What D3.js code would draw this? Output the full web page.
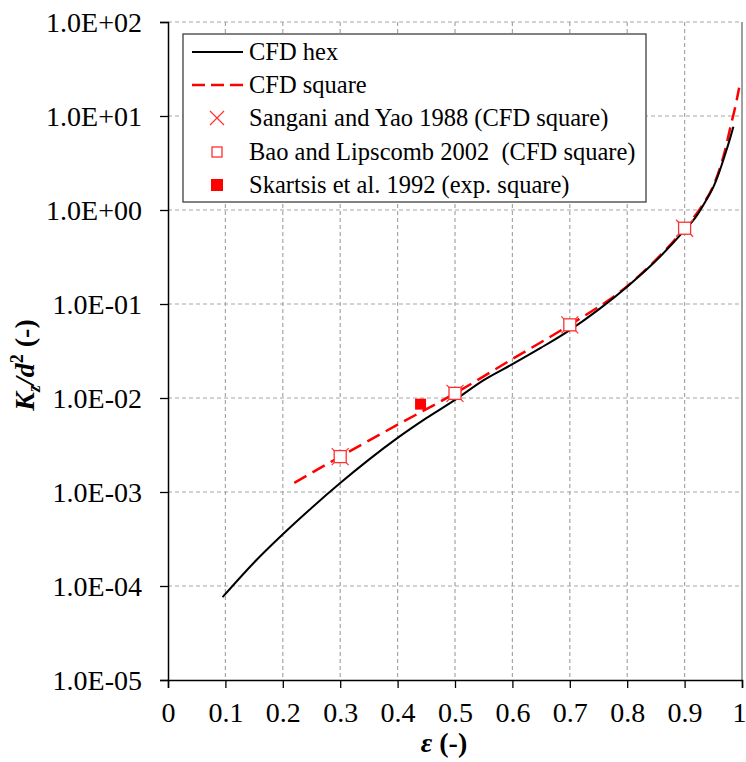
<!DOCTYPE html>
<html>
<head>
<meta charset="utf-8">
<script src="https://cdn.jsdelivr.net/npm/d3@7"></script>
<style>
  body { margin: 0; background: #fff; }
  svg { display: block; font-family: "Liberation Serif", "Times New Roman", serif; }
  .tick text { font-size: 28px; fill: #000; }
  .grid line { stroke: #a6a6a6; stroke-width: 1.2; stroke-dasharray: 4,3; }
  .legend text { font-size: 24.5px; white-space: pre; }
</style>
</head>
<body>
<svg id="chart"></svg>
<script>
// CFD hex (solid black)
var hexEps = [0.095, 0.15, 0.2, 0.25, 0.3, 0.35, 0.4, 0.45, 0.5, 0.55, 0.6, 0.65, 0.7, 0.75,
              0.8, 0.85, 0.9, 0.92, 0.94, 0.95, 0.96, 0.97, 0.98, 0.985];
var hexK   = [7.6e-5, 1.78e-4, 3.55e-4, 6.76e-4, 1.245e-3, 2.21e-3, 3.76e-3, 6.1e-3, 9.55e-3, 1.55e-2,
              2.29e-2, 3.43e-2, 5.28e-2, 8.71e-2, 0.153, 0.288, 0.61, 0.85, 1.35, 1.75, 2.5, 3.8, 6.0, 7.7];

// CFD square (red dashed)
var sqEps = [0.22, 0.3, 0.4, 0.5, 0.6, 0.7, 0.8, 0.9, 0.93, 0.95, 0.97, 0.98, 0.99, 0.995];
var sqK   = [1.25e-3, 2.38e-3, 5.2e-3, 1.12e-2, 2.6e-2, 6.0e-2, 0.155, 0.64, 1.1, 1.8, 4.2, 7.7, 14, 20];

// Sangani and Yao 1988 / Bao and Lipscomb 2002 (same points)
var refEps = [0.3, 0.5, 0.7, 0.9];
var refK   = [2.38e-3, 1.12e-2, 6.0e-2, 0.64];

// Skartsis et al. 1992
var expEps = [0.44];
var expK   = [8.6e-3];

var xTicks = [0, 0.1, 0.2, 0.3, 0.4, 0.5, 0.6, 0.7, 0.8, 0.9, 1];
var yTicks = [1e-5, 1e-4, 1e-3, 1e-2, 1e-1, 1e0, 1e1, 1e2];

var legendLabels = ["CFD hex", "CFD square", "Sangani and Yao 1988 (CFD square)",
                    "Bao and Lipscomb 2002  (CFD square)", "Skartsis et al. 1992 (exp. square)"];

var margin = {top: 22, right: 4, bottom: 82, left: 168},
    width = 746 - margin.left - margin.right,
    height = 762 - margin.top - margin.bottom;

var x = d3.scaleLinear().domain([0, 1]).range([0, width]);
var y = d3.scaleLog().domain([1e-5, 1e2]).range([height, 0]);

var svg = d3.select("#chart")
  .attr("width", 746)
  .attr("height", 762);

var chart = svg.append("g")
  .attr("transform", "translate(" + margin.left + "," + margin.top + ")");

// grid
var grid = chart.append("g").attr("class", "grid");
grid.selectAll(".gx")
  .data(xTicks.filter(function(d) { return d > 0 && d < 1; }))
  .enter().append("line")
  .attr("x1", function(d) { return x(d); })
  .attr("x2", function(d) { return x(d); })
  .attr("y1", 0).attr("y2", height);
grid.selectAll(".gy")
  .data(yTicks.filter(function(d) { return d > 1e-5; }))
  .enter().append("line")
  .attr("x1", 0).attr("x2", width)
  .attr("y1", function(d) { return y(d); })
  .attr("y2", function(d) { return y(d); });

// right border
chart.append("line")
  .attr("x1", width).attr("x2", width)
  .attr("y1", 0).attr("y2", height)
  .attr("stroke", "#7f7f7f").attr("stroke-width", 1.5);

function expFmt(d) {
  var e = Math.round(Math.log10(d));
  return "1.0E" + (e < 0 ? "-" : "+") + String(Math.abs(e)).padStart(2, "0");
}

var yAxis = d3.axisLeft(y).tickValues(yTicks).tickFormat(expFmt).tickSize(8).tickPadding(18);
var xAxis = d3.axisBottom(x).tickValues(xTicks).tickFormat(d3.format("")).tickSize(8).tickPadding(14);

chart.append("g")
  .attr("class", "y axis")
  .call(yAxis)
  .attr("font-family", "'Liberation Serif', 'Times New Roman', serif")
  .call(function(g) {
    g.select(".domain").attr("stroke", "#000").attr("stroke-width", 1.5);
    g.selectAll(".tick line").attr("stroke", "#000").attr("stroke-width", 1.3);
    g.selectAll(".tick text").attr("dy", "0.34em");
  });

chart.append("g")
  .attr("class", "x axis")
  .attr("transform", "translate(0," + height + ")")
  .call(xAxis)
  .attr("font-family", "'Liberation Serif', 'Times New Roman', serif")
  .call(function(g) {
    g.select(".domain").attr("stroke", "#000").attr("stroke-width", 1.5);
    g.selectAll(".tick line").attr("stroke", "#000").attr("stroke-width", 1.3);
    g.selectAll(".tick text").filter(function(d) { return d === 1; }).attr("dx", -3);
  });

// lines
var line = d3.line()
  .x(function(d) { return x(d[0]); })
  .y(function(d) { return y(d[1]); })
  .curve(d3.curveMonotoneX);

var hexData = d3.zip(hexEps, hexK);
var sqData = d3.zip(sqEps, sqK);

chart.append("path")
  .datum(sqData)
  .attr("d", line)
  .attr("fill", "none")
  .attr("stroke", "#ff0000")
  .attr("stroke-width", 2.5)
  .attr("stroke-dasharray", "14,7");

chart.append("path")
  .datum(hexData)
  .attr("d", line)
  .attr("fill", "none")
  .attr("stroke", "#000")
  .attr("stroke-width", 2);

// markers
function crossPath(s) {
  return "M" + (-s) + "," + (-s) + "L" + s + "," + s + "M" + (-s) + "," + s + "L" + s + "," + (-s);
}

var refData = d3.zip(refEps, refK);

chart.selectAll(".xmark")
  .data(refData)
  .enter().append("path")
  .attr("class", "xmark")
  .attr("transform", function(d) { return "translate(" + x(d[0]) + "," + y(d[1]) + ")"; })
  .attr("d", crossPath(8.5))
  .attr("stroke", "#ff3030")
  .attr("stroke-width", 1.2)
  .attr("fill", "none");

chart.selectAll(".sqmark")
  .data(refData)
  .enter().append("rect")
  .attr("class", "sqmark")
  .attr("x", function(d) { return x(d[0]) - 6; })
  .attr("y", function(d) { return y(d[1]) - 6; })
  .attr("width", 12).attr("height", 12)
  .attr("fill", "#fff")
  .attr("stroke", "#ff3030")
  .attr("stroke-width", 1.3);

chart.selectAll(".expmark")
  .data(d3.zip(expEps, expK))
  .enter().append("rect")
  .attr("class", "expmark")
  .attr("x", function(d) { return x(d[0]) - 5.5; })
  .attr("y", function(d) { return y(d[1]) - 5.5; })
  .attr("width", 11).attr("height", 11)
  .attr("fill", "#ff0000");

// LEGEND
var legend = svg.append("g").attr("class", "legend");
legend.append("rect")
  .attr("x", 183).attr("y", 34)
  .attr("width", 463).attr("height", 168)
  .attr("fill", "#fff")
  .attr("stroke", "#404040")
  .attr("stroke-width", 1.3);

var legY = [52, 85, 118, 152, 185];
var legItem = legend.selectAll(".item")
  .data(legendLabels)
  .enter().append("g")
  .attr("class", "item")
  .attr("transform", function(d, i) { return "translate(0," + legY[i] + ")"; });

legItem.append("text")
  .attr("x", 249)
  .attr("y", 8)
  .text(function(d) { return d; });

legItem.filter(function(d, i) { return i === 0; })
  .append("line")
  .attr("x1", 192).attr("x2", 243)
  .attr("stroke", "#000").attr("stroke-width", 2);
legItem.filter(function(d, i) { return i === 1; })
  .append("line")
  .attr("x1", 192).attr("x2", 244)
  .attr("stroke", "#ff0000").attr("stroke-width", 2.5)
  .attr("stroke-dasharray", "13,6");
legItem.filter(function(d, i) { return i === 2; })
  .append("path")
  .attr("transform", "translate(217,0)")
  .attr("d", crossPath(7))
  .attr("stroke", "#ff3030").attr("stroke-width", 1.2);
legItem.filter(function(d, i) { return i === 3; })
  .append("rect")
  .attr("x", 212).attr("y", -5).attr("width", 10).attr("height", 10)
  .attr("fill", "#fff").attr("stroke", "#ff3030").attr("stroke-width", 1.3);
legItem.filter(function(d, i) { return i === 4; })
  .append("rect")
  .attr("x", 211).attr("y", -6).attr("width", 12).attr("height", 12)
  .attr("fill", "#ff0000");

// AXIS TITLES
var yTitle = svg.append("text")
  .attr("transform", "translate(34,365) rotate(-90)")
  .attr("text-anchor", "middle")
  .attr("font-size", 28)
  .attr("font-weight", "bold");
yTitle.append("tspan").attr("font-style", "italic").text("K");
yTitle.append("tspan").attr("font-style", "italic").attr("font-size", 18).attr("dy", 6).text("z");
yTitle.append("tspan").attr("font-style", "italic").attr("dy", -6).text("/d");
yTitle.append("tspan").attr("font-size", 18).attr("dy", -11).text("2");
yTitle.append("tspan").attr("dy", 11).text(" (-)");

var xTitle = svg.append("text")
  .attr("x", 444).attr("y", 752)
  .attr("text-anchor", "middle")
  .attr("font-size", 28)
  .attr("font-weight", "bold");
xTitle.append("tspan").attr("font-style", "italic").text("ε");
xTitle.append("tspan").text(" (-)");
</script>
</body>
</html>
